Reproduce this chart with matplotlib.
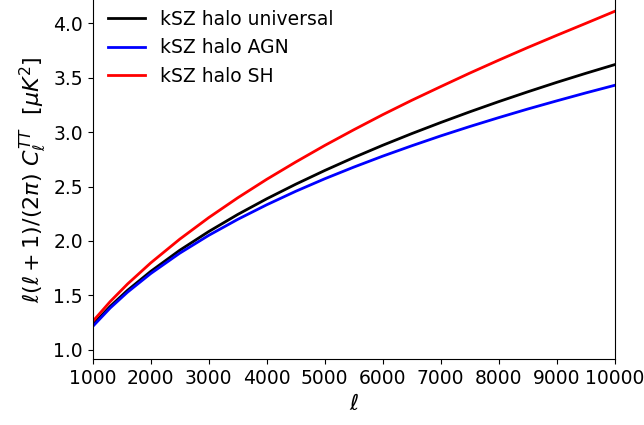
import numpy as np
import matplotlib
matplotlib.use('Agg')
import matplotlib.pyplot as plt

# multipoles and kSZ power
ell = [1000, 1300, 1600, 2000, 2500, 3000, 3500, 4000, 4500, 5000, 5500,
       6000, 6500, 7000, 7500, 8000, 8500, 9000, 9500, 10000]
dl_universal = [1.23, 1.398, 1.546, 1.720, 1.914, 2.086, 2.243, 2.387, 2.521, 2.647,
                2.766, 2.879, 2.986, 3.088, 3.186, 3.280, 3.370, 3.457, 3.540, 3.62]
dl_agn = [1.214, 1.383, 1.529, 1.700, 1.887, 2.051, 2.198, 2.332, 2.456, 2.571,
          2.678, 2.779, 2.874, 2.965, 3.051, 3.133, 3.212, 3.287, 3.360, 3.43]
dl_sh = [1.26, 1.442, 1.604, 1.798, 2.016, 2.214, 2.396, 2.566, 2.725, 2.877,
         3.021, 3.160, 3.292, 3.418, 3.542, 3.661, 3.777, 3.889, 3.999, 4.11]

series = [
    (dl_universal, 'kSZ halo universal', 'black'),
    (dl_agn, 'kSZ halo AGN', 'blue'),
    (dl_sh, 'kSZ halo SH', 'red'),
]

plt.rcParams['font.size'] = 13.5

fig = plt.figure(figsize=(6.44, 4.25), dpi=100)
ax = fig.add_axes([0.144, 0.1546, 0.8105, 0.8454])

for vals, label, colour in series:
    ax.plot(ell, vals, color=colour, lw=2, label=label)

ax.set_xlim(1000, 10000)
ax.set_ylim(0.912, 4.214)
ax.set_xticks(np.arange(1000, 10001, 1000))
ax.set_yticks(np.arange(1.0, 4.01, 0.5))
ax.spines['top'].set_visible(False)

ax.set_xlabel(r'$\ell$', fontsize=16)
ax.set_ylabel(r'$\ell(\ell+1)/(2\pi)\ C_\ell^{TT}\ \ [\mu K^2]$', fontsize=16)
ax.legend(loc='upper left', frameon=False, bbox_to_anchor=(-0.004, 1.019))

fig.savefig('out.png', dpi=100)
